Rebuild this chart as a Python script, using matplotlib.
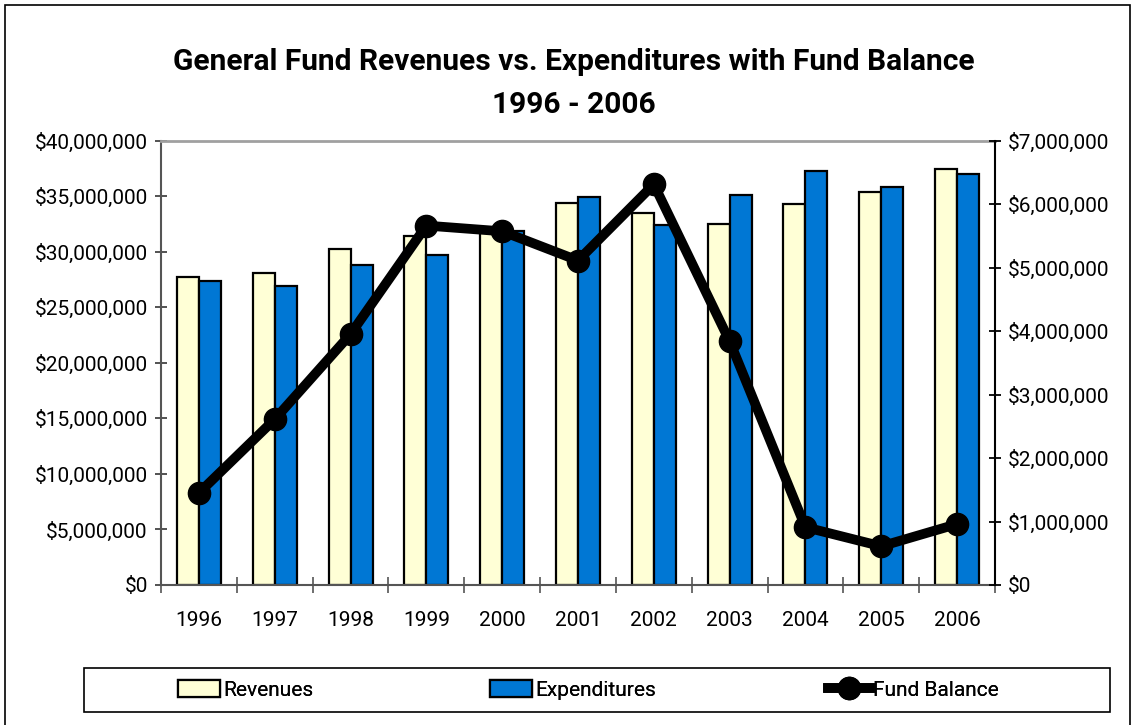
import matplotlib
matplotlib.use("Agg")
import matplotlib.pyplot as plt
from matplotlib.patches import Rectangle, Patch
from matplotlib.lines import Line2D
from matplotlib.ticker import FuncFormatter, MultipleLocator
import numpy as np

years = ["1996", "1997", "1998", "1999", "2000", "2001", "2002", "2003", "2004", "2005", "2006"]
revenues = [27.7e6, 28.1e6, 30.2e6, 31.4e6, 31.8e6, 34.4e6, 33.5e6, 32.5e6, 34.3e6, 35.4e6, 37.4e6]
expenditures = [27.4e6, 26.9e6, 28.8e6, 29.7e6, 31.9e6, 34.9e6, 32.4e6, 35.1e6, 37.3e6, 35.8e6, 37.0e6]
fund_balance = [1.45e6, 2.61e6, 3.95e6, 5.66e6, 5.57e6, 5.11e6, 6.31e6, 3.84e6, 0.91e6, 0.61e6, 0.96e6]

plt.rcParams['font.family'] = ['Roboto', 'DejaVu Sans']

W, H = 1135, 725
fig = plt.figure(figsize=(W / 100, H / 100), dpi=100)

def px(x0, y0, x1, y1):
    return [x0 / W, 1 - y1 / H, (x1 - x0) / W, (y1 - y0) / H]

ax = fig.add_axes(px(161, 140.5, 995, 585))
x = np.arange(len(years))
bw = 0.29
rev_c = "#FFFFD6"
exp_c = "#0077D4"
ax.bar(x - bw / 2, revenues, width=bw, color=rev_c, edgecolor="black", linewidth=1.6, zorder=2)
ax.bar(x + bw / 2, expenditures, width=bw, color=exp_c, edgecolor="black", linewidth=1.6, zorder=2)
ax.set_xlim(-0.5, len(years) - 0.5)
ax.set_ylim(0, 40e6)
ax.yaxis.set_major_locator(MultipleLocator(5e6))
ax.yaxis.set_major_formatter(FuncFormatter(lambda v, p: "${:,.0f}".format(v)))
ax.set_xticks(x)
ax.set_xticklabels(years)
ax.set_xticks(np.arange(-0.5, len(years) + 0.5, 1), minor=True)
ax.tick_params(axis='x', which='major', length=0, pad=19, labelsize=15)
ax.tick_params(axis='x', which='minor', direction='inout', length=11, width=1.2, color="#555555")
ax.tick_params(axis='y', direction='inout', length=9, width=1.3, color="#444444", labelsize=15, pad=5)
ax.spines['top'].set_color("#A0A0A0")
ax.spines['top'].set_linewidth(2)
ax.spines['left'].set_color("#555555")
ax.spines['left'].set_linewidth(1.5)
ax.spines['bottom'].set_color("#555555")
ax.spines['bottom'].set_linewidth(1.5)
ax.spines['right'].set_visible(False)

ax2 = ax.twinx()
ax2.plot(x, fund_balance, color="black", linewidth=7, marker='o', markersize=16, zorder=5)
ax2.set_ylim(0, 7e6)
ax2.yaxis.set_major_locator(MultipleLocator(1e6))
ax2.yaxis.set_major_formatter(FuncFormatter(lambda v, p: "${:,.0f}".format(v)))
ax2.tick_params(axis='y', direction='inout', length=9, width=1.3, color="black", labelsize=15, pad=5)
for s in ['top', 'left', 'bottom']:
    ax2.spines[s].set_visible(False)
ax2.spines['right'].set_color("black")
ax2.spines['right'].set_linewidth(1.5)

fig.text(574 / W, 1 - 62 / H, "General Fund Revenues vs. Expenditures with Fund Balance",
         ha='center', va='center', fontsize=21.5, fontweight='bold')
fig.text(574 / W, 1 - 105 / H, "1996 - 2006",
         ha='center', va='center', fontsize=21.5, fontweight='bold')

# outer frame
fig.patches.append(Rectangle((5 / W, -0.01), (1130 - 5) / W, 1 - 5 / H + 0.01,
                             transform=fig.transFigure, fill=False, edgecolor="black", linewidth=1.2))
# legend frame
fig.patches.append(Rectangle((84 / W, 1 - 712 / H), (1110 - 84) / W, (712 - 668) / H,
                             transform=fig.transFigure, fill=False, edgecolor="black", linewidth=1.2))

handles = [Patch(facecolor=rev_c, edgecolor="black", linewidth=1.6),
           Patch(facecolor=exp_c, edgecolor="black", linewidth=1.6),
           Line2D([0], [0], color="black", linewidth=7, marker='o', markersize=16)]
labels = ["Revenues", "Expenditures", "Fund Balance"]
starts = [178, 490, 828]
for h, l, s in zip(handles, labels, starts):
    leg = fig.legend([h], [l], loc='center left', bbox_to_anchor=(s / W, 1 - 690 / H),
                     frameon=False, fontsize=15, handlelength=2.0, handletextpad=0.15,
                     handleheight=0.85, borderpad=0, borderaxespad=0)
    fig.add_artist(leg)

fig.savefig("out.png", dpi=100)
